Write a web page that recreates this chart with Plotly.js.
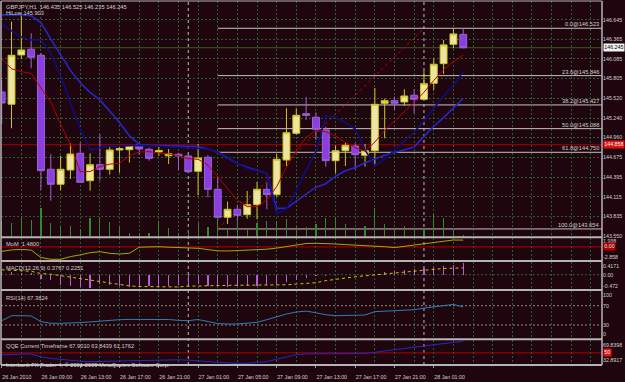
<!DOCTYPE html>
<html><head><meta charset="utf-8">
<script src="https://cdn.plot.ly/plotly-3.0.1.min.js"></script>
<style>html,body{margin:0;padding:0;background:#1F050D;}#chart{width:625px;height:382px;}</style>
</head><body><div id="chart"></div>
<script>
// ---------------- DATA ----------------
const barTimes = [
 "26 Jan 05:00","26 Jan 06:00","26 Jan 07:00","26 Jan 08:00","26 Jan 09:00","26 Jan 10:00","26 Jan 11:00","26 Jan 12:00",
 "26 Jan 13:00","26 Jan 14:00","26 Jan 15:00","26 Jan 16:00","26 Jan 17:00","26 Jan 18:00","26 Jan 19:00","26 Jan 20:00",
 "26 Jan 21:00","26 Jan 22:00","26 Jan 23:00","27 Jan 00:00","27 Jan 01:00","27 Jan 02:00","27 Jan 03:00","27 Jan 04:00",
 "27 Jan 05:00","27 Jan 06:00","27 Jan 07:00","27 Jan 08:00","27 Jan 09:00","27 Jan 10:00","27 Jan 11:00","27 Jan 12:00",
 "27 Jan 13:00","27 Jan 14:00","27 Jan 15:00","27 Jan 16:00","27 Jan 17:00","27 Jan 18:00","27 Jan 19:00","27 Jan 20:00",
 "27 Jan 21:00","27 Jan 22:00","27 Jan 23:00","28 Jan 00:00","28 Jan 01:00","28 Jan 02:00","28 Jan 03:00","28 Jan 04:00"];
const timeTickText = ["26 Jan 2010","26 Jan 09:00","26 Jan 13:00","26 Jan 17:00","26 Jan 21:00","27 Jan 01:00",
 "27 Jan 05:00","27 Jan 09:00","27 Jan 13:00","27 Jan 17:00","27 Jan 21:00","28 Jan 01:00"];
const timeTickTimes = ["26 Jan 05:00","26 Jan 09:00","26 Jan 13:00","26 Jan 17:00","26 Jan 21:00","27 Jan 01:00",
 "27 Jan 05:00","27 Jan 09:00","27 Jan 13:00","27 Jan 17:00","27 Jan 21:00","28 Jan 01:00"];

const open  = [145.612,145.437,146.142,146.223,146.137,144.507,144.293,144.497,144.736,144.344,144.573,144.507,144.783,144.787,144.855,144.793,144.754,144.701,144.722,144.697,144.478,144.679,144.221,143.821,143.935,143.858,144.001,144.221,144.144,144.640,145.022,145.302,145.251,145.069,144.630,144.773,144.840,144.707,144.773,145.451,145.488,145.469,145.565,145.508,145.737,146.017,146.294,146.435];
const high  = [145.784,146.618,146.713,146.452,146.170,144.722,144.697,144.879,144.887,144.736,145.008,144.830,144.830,144.855,144.879,144.816,144.840,144.797,144.744,144.744,144.869,144.707,144.411,144.044,143.996,144.197,144.325,144.315,144.726,145.379,145.379,145.541,145.316,145.116,144.850,144.887,144.879,144.869,145.670,145.517,145.545,145.651,145.651,145.913,146.094,146.356,146.523,146.525];
const low   = [145.155,145.093,146.080,145.951,144.211,144.058,144.207,144.368,144.311,144.201,144.344,144.430,144.458,144.601,144.712,144.630,144.697,144.583,144.497,144.461,144.135,144.107,143.772,143.725,143.654,143.800,143.792,143.935,144.115,144.554,144.998,145.212,144.926,144.544,144.450,144.554,144.507,144.544,144.569,144.950,145.355,145.412,145.308,145.498,145.641,145.870,146.237,146.235];
const close = [145.455,146.137,146.213,146.109,144.487,144.293,144.507,144.726,144.321,144.573,144.507,144.783,144.802,144.845,144.797,144.664,144.776,144.730,144.697,144.473,144.669,144.221,143.821,143.935,143.849,144.001,144.221,144.144,144.650,145.030,145.279,145.279,145.079,144.630,144.773,144.850,144.716,144.773,145.436,145.488,145.451,145.555,145.508,145.731,146.009,146.285,146.442,146.245];
const volume = [320,280,400,340,580,280,200,220,160,380,400,300,200,80,80,80,320,180,80,140,280,200,400,180,320,160,280,320,320,360,200,200,260,380,400,260,180,220,580,260,160,220,160,180,460,380,180,40];

const redMA  = [146.089,145.944,145.903,145.877,145.670,145.471,145.148,144.863,144.473,144.474,144.544,144.581,144.593,144.704,144.754,144.759,144.739,144.727,144.702,144.659,144.650,144.567,144.398,144.225,144.064,143.972,143.975,144.068,144.258,144.538,144.773,144.962,145.062,145.046,144.982,144.892,144.817,144.767,144.896,145.065,145.193,145.321,145.462,145.608,145.778,145.930,146.044,146.142];
const blueMA = [146.714,146.714,146.714,146.702,146.605,146.367,146.134,145.920,145.743,145.607,145.499,145.332,145.176,144.987,144.863,144.850,144.846,144.842,144.839,144.835,144.832,144.796,144.750,144.670,144.590,144.537,144.493,144.446,143.949,143.949,144.051,144.151,144.251,144.301,144.408,144.487,144.533,144.599,144.654,144.709,144.747,144.787,144.826,144.977,145.122,145.246,145.388,145.522];
const hiLow  = [146.579,146.485,146.397,146.356,146.356,146.169,145.840,145.459,145.083,144.783,144.819,144.835,144.843,144.852,144.850,144.843,144.836,144.832,144.822,144.816,144.809,144.796,144.752,144.686,144.594,144.520,144.484,144.443,143.868,143.946,144.201,144.497,144.760,145.269,145.248,145.176,145.083,144.783,144.554,144.654,144.783,144.915,145.040,145.198,145.384,145.551,145.713,145.903];

const momValues = [-0.983,-0.656,-0.547,-0.700,-2.313,-2.705,-2.705,-2.117,-1.746,-1.267,-1.049,-1.397,-1.550,-1.397,-0.068,0.041,0.041,-0.068,-0.155,-0.286,-0.307,-0.591,-0.852,-0.896,-0.831,-0.765,-0.700,-0.504,-0.264,0.107,0.499,0.739,0.783,0.783,0.630,0.499,0.390,0.347,0.281,0.041,-0.155,0.107,0.456,0.761,1.044,1.306,1.502,1.480];
const macdMain = [0.09,0.076,0.06,0.05,-0.13,-0.16,-0.33,-0.38,-0.42,-0.44,-0.31,-0.35,-0.36,-0.40,-0.38,-0.38,-0.38,-0.36,-0.35,-0.33,-0.31,-0.38,-0.38,-0.40,-0.37,-0.37,-0.36,-0.35,-0.33,-0.24,-0.16,-0.11,-0.055,-0.03,-0.02,-0.01,-0.005,0.005,0.022,0.077,0.11,0.143,0.187,0.22,0.25,0.30,0.33,0.3767];
const macdSignal = [0.161,0.145,0.128,0.112,0.036,0.016,-0.033,-0.082,-0.132,-0.181,-0.230,-0.277,-0.323,-0.369,-0.389,-0.395,-0.398,-0.402,-0.405,-0.379,-0.365,-0.362,-0.359,-0.352,-0.352,-0.352,-0.352,-0.352,-0.352,-0.333,-0.313,-0.283,-0.263,-0.198,-0.151,-0.102,-0.069,-0.036,-0.007,0.026,0.059,0.092,0.132,0.161,0.184,0.204,0.214,0.2251];
const rsiValues = [38.9,49.3,49.3,48.7,37.0,33.5,33.5,33.9,35.0,36.4,38.3,40.4,41.0,41.6,41.8,41.8,41.8,41.4,39.7,38.9,41.4,37.9,33.1,32.1,32.1,33.9,35.6,41.0,47.2,52.8,56.9,58.8,55.3,51.3,49.3,49.3,49.3,50.7,57.6,58.4,59.2,60.5,61.7,65.0,67.1,70.0,72.7,67.38];
const qqeValues = [46.90,47.82,48.13,48.29,43.82,41.51,39.97,38.59,37.20,36.59,36.90,37.20,37.51,37.82,38.28,38.89,39.66,39.97,39.35,38.74,38.12,36.74,35.35,34.12,33.97,33.97,35.20,36.43,40.28,44.13,47.21,48.59,48.90,48.59,48.44,48.74,48.90,49.21,50.90,52.60,54.60,56.60,58.76,60.76,62.45,64.14,65.68,67.90];

const priceTicks = [146.645,146.365,146.085,145.805,145.520,145.240,144.960,144.675,144.395,144.115,143.835,143.550];
const fibNames  = ["0.0","23.6","38.2","50.0","61.8","100.0"];
const fibPrices = [146.523,145.846,145.427,145.088,144.750,143.654];
const fibFromTime = "27 Jan 04:00", fibToTime = "28 Jan 00:00";
const separatorTimes = ["27 Jan 00:00","28 Jan 00:00"];
const redLinePrice = 144.858, bidPrice = 146.245;
const momRange = [-2.858, 1.938], macdRange = [-0.472, 0.4171], qqeRange = [32.8917, 69.8398];
const rsiLevels = [70, 30], qqeLevel = 50;

// ---------------- LAYOUT HELPERS ----------------
const xs = barTimes.map((t, i) => i);
const idx = t => barTimes.indexOf(t);
const TOP = 1, BOT = 364, H = BOT - TOP;
const py = p => (BOT - p) / H;
const BG = '#1F050D', GRID = '#2E5C2E', TXT = '#D2D2D2', BORDER = '#B4B4B4';
const F = 'Liberation Sans, Arial, sans-serif', FS = 5.7, AFS = 5.3;
const font = {family: F, size: FS, color: TXT};
const axFont = {family: F, size: AFS, color: TXT};
const xRange = [-0.0713, 61.13];

function inset(range, pxTop, pxBot, insTop, insBot) {
  const k = (range[1] - range[0]) / (pxBot - pxTop);
  return [range[1] - insTop * k, range[0] + insBot * k];
}
const momIn = inset(momRange, 238, 260, 3, 2.5);
const macdIn = inset(macdRange, 262, 289, 4, 3);
const qqeIn = inset(qqeRange, 340, 364, 5, 4);

const traces = [
  {type:'bar', x: xs, y: volume, yaxis:'y6', width:0.12, marker:{color:'#2E8A2E', line:{width:0}}, hoverinfo:'skip'},
  {type:'candlestick', x: xs, open, high, low, close, whiskerwidth:0,
   increasing:{line:{color:'#C8C81E', width:1}, fillcolor:'#EEE5A2'},
   decreasing:{line:{color:'#9A64D4', width:1}, fillcolor:'#8A3DE0'}, hoverinfo:'skip'},
  {type:'scatter', mode:'lines', x: xs, y: blueMA, line:{color:'#2626C8', width:1.6}},
  {type:'scatter', mode:'lines', x: xs, y: hiLow, line:{color:'#0E0E84', width:1.6}},
  {type:'scatter', mode:'lines', x: xs, y: redMA, line:{color:'#B80000', width:1}},
  {type:'scatter', mode:'lines', x: xs, y: momValues, yaxis:'y2', line:{color:'#A8A800', width:1}},
  {type:'bar', x: xs, y: macdMain, yaxis:'y3', width:0.12, marker:{color:'#B65CDC', line:{width:0}}},
  {type:'scatter', mode:'lines', x: xs, y: macdSignal, yaxis:'y3', line:{color:'#C8C800', width:1, dash:'dot'}},
  {type:'scatter', mode:'lines', x: xs, y: rsiValues, yaxis:'y4', line:{color:'#2A80B8', width:1}},
  {type:'scatter', mode:'lines', x: xs, y: qqeValues, yaxis:'y5', line:{color:'#2626D0', width:1}}
];

const shapes = [];
[[TOP,1],[237.3,2],[261,2],[290,2],[339.3,2],[365,2]].forEach(([p,w]) =>
  shapes.push({type:'line', xref:'paper', yref:'paper', x0:0, x1:1, y0:py(p), y1:py(p), line:{color:BORDER, width:w}, layer:'above'}));
shapes.push({type:'line', xref:'paper', yref:'paper', x0:0, x1:0, y0:py(365), y1:1, line:{color:BORDER, width:1.5}, layer:'above'});
shapes.push({type:'line', xref:'paper', yref:'paper', x0:1, x1:1, y0:py(365), y1:1, line:{color:BORDER, width:1.5}, layer:'above'});
separatorTimes.forEach(t => shapes.push({type:'line', xref:'x', yref:'paper', x0:idx(t), x1:idx(t), y0:py(365), y1:1, line:{color:'#BDBDBD', width:1, dash:'dot'}, layer:'below'}));
shapes.push({type:'line', xref:'paper', yref:'y', x0:0, x1:1, y0:redLinePrice, y1:redLinePrice, line:{color:'#A80000', width:1}, layer:'below'});
shapes.push({type:'line', xref:'paper', yref:'y', x0:0, x1:1, y0:bidPrice, y1:bidPrice, line:{color:'#365F16', width:1}, layer:'below'});
fibPrices.forEach(p => shapes.push({type:'line', xref:'x', yref:'y', x0:idx(fibFromTime)-1, x1:xRange[1], y0:p, y1:p, line:{color:'#C4C4C4', width:1}, layer:'below'}));
shapes.push({type:'line', xref:'x', yref:'y', x0:idx(fibFromTime)-1, x1:idx(fibToTime), y0:fibPrices[5], y1:fibPrices[0], line:{color:'#C00000', width:1, dash:'dot'}, layer:'below'});
shapes.push({type:'line', xref:'paper', yref:'y2', x0:0, x1:1, y0:0, y1:0, line:{color:'#B00000', width:1}, layer:'below'});
shapes.push({type:'line', xref:'paper', yref:'y3', x0:0, x1:1, y0:0, y1:0, line:{color:GRID, width:1, dash:'2px,2px'}, layer:'below'});
rsiLevels.forEach(l => shapes.push({type:'line', xref:'paper', yref:'y4', x0:0, x1:1, y0:l, y1:l, line:{color:'#8A8A8A', width:1, dash:'2px,2px'}, layer:'below'}));
shapes.push({type:'line', xref:'paper', yref:'y5', x0:0, x1:1, y0:qqeLevel, y1:qqeLevel, line:{color:'#B00000', width:1}, layer:'below'});

const ann = (text, y, extra) => Object.assign({text, xref:'paper', yref:'paper', x:0.005, y, xanchor:'left', yanchor:'middle', showarrow:false, font}, extra||{});
const annotations = [
  ann('GBPJPY,H1  ' + [open[47], high[47], low[47], close[47]].map(v => v.toFixed(3)).join(' '), py(6.7)),
  ann('HiLow ' + hiLow[47].toFixed(3), py(12.7)),
  ann('MoM  ' + momValues[47].toFixed(4), py(244.3)),
  ann('MACD(12,26,9) ' + macdMain[47].toFixed(4) + ' ' + macdSignal[47].toFixed(4), py(268.3)),
  ann('RSI(14) 67.3824', py(297.7)),
  ann('QQE Current Timeframe 67.9010 63.8439 61.1762', py(346)),
  ann('Interbank FX Trader 4, © 2001-2009 MetaQuotes Software Corp.', py(365.3)),
];
fibNames.forEach((n, i) => annotations.push({text: n + '@' + fibPrices[i].toFixed(3), xref:'paper', yref:'y', x:1, y:fibPrices[i], xanchor:'right', yanchor:'bottom', xshift:-1, yshift:-1, showarrow:false, font}));
const box = (text, yref, y, bg, col) => ({text, xref:'paper', yref, x:1, y, xanchor:'left', yanchor:'middle', xshift:0.5, showarrow:false, bgcolor:bg, borderpad:0.3, font:{family:F, size:AFS, color:col}});
annotations.push(box(bidPrice.toFixed(3), 'y', bidPrice, '#F2F2F2', '#000000'));
annotations.push(box(redLinePrice.toFixed(3), 'y', redLinePrice, '#E01212', '#F4F4F4'));
annotations.push(box('0.00', 'y2', 0, '#B00000', '#E0E0E0'));
annotations.push(box(String(qqeLevel), 'y5', qqeLevel, '#E01212', '#F4F4F4'));

const yBase = {side:'right', anchor:'x', tickfont:axFont, ticks:'', ticklabelstandoff:0, zeroline:false, showline:false, fixedrange:true, tickmode:'array'};
const layout = {
  width:625, height:382, margin:{l:1, r:23, t:1, b:18}, paper_bgcolor:BG, plot_bgcolor:BG,
  showlegend:false, boxgap:0.3, boxgroupgap:0, bargap:0, hovermode:false,
  xaxis:{range:xRange, anchor:'y5', showline:false, zeroline:false, fixedrange:true,
    rangeslider:{visible:false}, tickmode:'array', tickvals: timeTickTimes.map(idx), ticktext: timeTickText,
    tickfont:axFont, tickangle:0, ticks:'outside', ticklen:3, tickcolor:'#9A9A9A', ticklabelposition:'outside right',
    ticklabelstandoff:8,
    showgrid:true, gridcolor:GRID, griddash:'2px,2px', gridwidth:1,
    minor:{tickmode:'linear', tick0:0, dtick:2, showgrid:true, gridcolor:GRID, griddash:'2px,2px', gridwidth:1, ticks:''}},
  yaxis: Object.assign({}, yBase, {domain:[py(236.5), 1], range:[143.546, 146.913], tickvals: priceTicks, ticktext: priceTicks.map(v => v.toFixed(3)),
    showgrid:true, gridcolor:GRID, griddash:'2px,2px', gridwidth:1}),
  yaxis2: Object.assign({}, yBase, {domain:[py(260), py(238)], range: momRange, tickvals:[momIn[0], momIn[1]], ticktext:[momRange[1].toFixed(3), momRange[0].toFixed(3)], showgrid:false}),
  yaxis3: Object.assign({}, yBase, {domain:[py(289), py(262)], range: macdRange, tickvals:[macdIn[0], 0, macdIn[1]], ticktext:[macdRange[1].toFixed(4), '0.00', macdRange[0].toFixed(3)], showgrid:false}),
  yaxis4: Object.assign({}, yBase, {domain:[py(339.5), py(291.2)], range:[0,100], tickvals:[92.5, 70, 30, 11], ticktext:['100','70','30','0'], showgrid:false}),
  yaxis5: Object.assign({}, yBase, {domain:[0, py(340)], range: qqeRange, tickvals:[qqeIn[0], qqeIn[1]], ticktext:[qqeRange[1].toFixed(4), qqeRange[0].toFixed(4)], showgrid:false}),
  yaxis6: {overlaying:'y', range:[0, 4710], visible:false, fixedrange:true},
  shapes, annotations
};
Plotly.newPlot('chart', traces, layout, {staticPlot:true, displayModeBar:false});
</script></body></html>
